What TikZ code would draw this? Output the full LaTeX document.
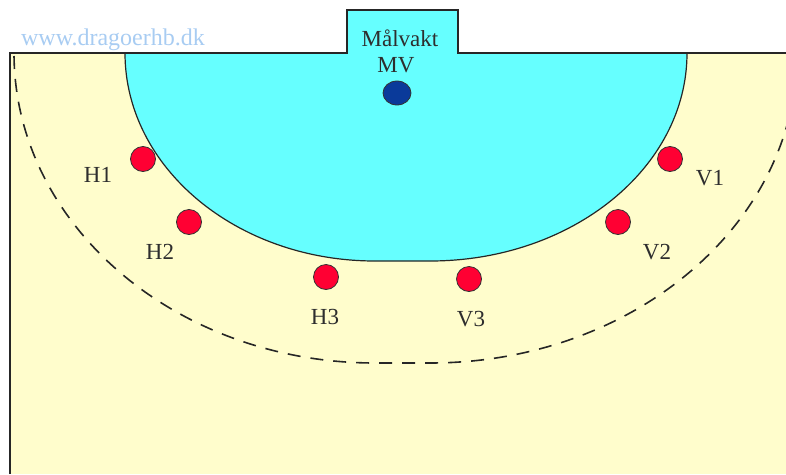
\documentclass[tikz,border=0pt]{standalone}
\usepackage{fontspec}
\setmainfont{Liberation Serif}
\usetikzlibrary{shapes.geometric}
\definecolor{court}{HTML}{FFFDCC}
\definecolor{goalarea}{HTML}{66FFFF}
\definecolor{plred}{HTML}{FF0033}
\definecolor{mvblue}{HTML}{0A3A9A}
\definecolor{webblue}{HTML}{A8CCF2}
\definecolor{txtgray}{HTML}{2E2E2E}

\tikzset{
  player/.style={circle, draw=black!80, fill=plred, line width=0.8pt, minimum size=25pt, inner sep=0pt},
  keeper/.style={ellipse, draw=black!80, fill=mvblue, line width=0.8pt, minimum width=28pt, minimum height=24pt, inner sep=0pt},
  plabel/.style={text=txtgray, font=\fontsize{23}{26}\selectfont, inner sep=0pt}
}

\begin{document}
\begin{tikzpicture}[x=1pt, y=1pt]
\useasboundingbox (0,0) rectangle (786,-474);

% --- Court ---
\fill[court] (10,-53) rectangle (786,-474);

% Goal area (6 m)
\fill[goalarea] (125,-53) arc[start angle=180, end angle=270, x radius=250, y radius=208]
  -- (430,-261) arc[start angle=270, end angle=360, x radius=257, y radius=208] -- cycle;
\draw[black!85, line width=1.2pt] (125,-53) arc[start angle=180, end angle=270, x radius=250, y radius=208]
  -- (430,-261) arc[start angle=270, end angle=360, x radius=257, y radius=208];

% Free throw line (9 m)
\begin{scope}
  \clip (10,-53) rectangle (786,-474);
  \draw[black!85, line width=1.6pt, dash pattern=on 13pt off 10pt, dash phase=20pt]
    (14,-53) arc[start angle=180, end angle=270, x radius=361, y radius=310]
    -- (430,-363) arc[start angle=270, end angle=360, x radius=367, y radius=310];
\end{scope}

% Goal
\fill[goalarea] (347,-53) rectangle (458,-10);
\draw[black!85, line width=1.2pt] (10,-474) -- (10,-53) -- (347,-53) -- (347,-10) -- (458,-10) -- (458,-53) -- (786,-53);

% Watermark
\node[text=webblue, font=\fontsize{24}{26}\selectfont, inner sep=0pt] (web) at (113,-40) {www.dragoerhb.dk};

% --- Goalkeeper ---
\node[plabel] (mvtitle) at (400,-38) {Målvakt};
\node[plabel] (mvlabel) at (396,-65) {MV};
\node[keeper] (mv) at (397,-93) {};

% --- Players ---
\node[player] (h1) at (143,-159) {};
\node[player] (h2) at (189,-222) {};
\node[player] (h3) at (326,-277) {};
\node[player] (v3) at (469,-279) {};
\node[player] (v2) at (618,-222) {};
\node[player] (v1) at (670,-159) {};

\node[plabel] (h1label) at (98,-175) {H1};
\node[plabel] (h2label) at (160,-252) {H2};
\node[plabel] (h3label) at (325,-317) {H3};
\node[plabel] (v3label) at (471,-319) {V3};
\node[plabel] (v2label) at (657,-252) {V2};
\node[plabel] (v1label) at (710,-178) {V1};

\end{tikzpicture}
\end{document}
